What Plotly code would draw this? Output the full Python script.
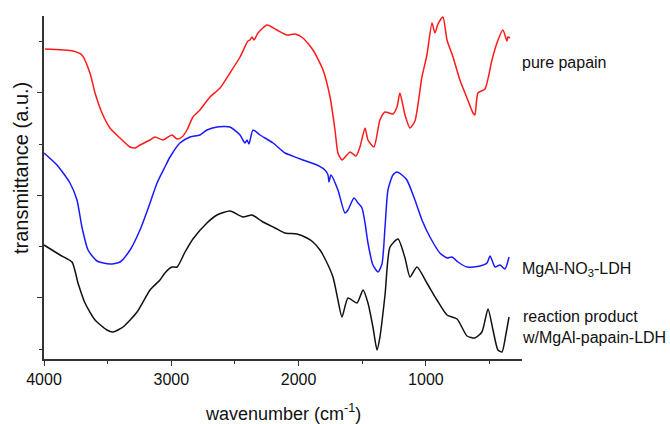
import plotly.graph_objects as go

# ---- data (wavenumber in cm^-1, transmittance in arbitrary units, offset stacked) ----
papain_wn = [3992, 3772, 3702, 3639, 3599, 3544, 3482, 3403, 3324, 3285, 3246, 3167, 3128, 3065,
             2995, 2955, 2916, 2877, 2830, 2775, 2696, 2617, 2539, 2460, 2398, 2382, 2366, 2350,
             2319, 2248, 2170, 2091, 2028, 1966, 1887, 1808, 1753, 1714, 1691, 1659, 1620, 1596,
             1549, 1518, 1478, 1455, 1408, 1361, 1321, 1259, 1227, 1204, 1164, 1125, 1086, 1031,
             992, 952, 929, 905, 866, 834, 787, 733, 677, 630, 615, 591, 536, 481, 442, 395, 363,
             355, 339]
papain_t = [310, 308, 304, 286, 266, 246, 231, 221, 212, 211, 214, 219, 222, 219,
            224, 220, 222, 229, 242, 249, 262, 271, 286, 302, 318, 319, 322, 319,
            326, 334, 329, 324, 325, 321, 309, 289, 262, 229, 206, 199, 204, 207,
            203, 212, 231, 219, 212, 239, 247, 245, 252, 266, 244, 231, 238, 282,
            304, 336, 326, 335, 342, 319, 302, 279, 261, 246, 244, 266, 270, 299, 316, 329, 318,
            322, 321]

ldh_wn = [4000, 3898, 3796, 3741, 3702, 3654, 3584, 3482, 3403, 3324, 3246, 3167, 3112, 3050,
          3010, 2932, 2853, 2775, 2720, 2641, 2539, 2460, 2421, 2405, 2390, 2358, 2303, 2201,
          2107, 2068, 1966, 1856, 1793, 1769, 1761, 1746, 1691, 1636, 1612, 1565, 1533, 1502,
          1478, 1455, 1416, 1376, 1345, 1321, 1298, 1259, 1227, 1188, 1149, 1086, 1031, 968,
          890, 834, 795, 748, 677, 575, 520, 496, 457, 418, 379, 347]
ldh_t = [206, 194, 176, 159, 132, 109, 98, 95, 97, 109, 129, 156, 176, 192,
         202, 216, 222, 224, 229, 232, 232, 224, 216, 219, 215, 229, 224, 216,
         206, 204, 199, 194, 189, 184, 177, 184, 169, 146, 149, 161, 156, 151,
         136, 116, 94, 87, 95, 132, 169, 184, 187, 184, 179, 159, 139, 122,
         106, 101, 102, 97, 92, 93, 96, 103, 92, 94, 90, 102]

prod_wn = [4000, 3874, 3780, 3733, 3678, 3599, 3505, 3458, 3379, 3269, 3167, 3089, 3050, 2995,
           2955, 2892, 2830, 2720, 2641, 2539, 2437, 2366, 2280, 2185, 2107, 2013, 1934, 1887,
           1832, 1808, 1730, 1691, 1659, 1612, 1541, 1494, 1455, 1416, 1384, 1361, 1321, 1282,
           1219, 1164, 1125, 1070, 992, 913, 834, 755, 677, 615, 560, 512, 473, 434, 402, 371, 347]
prod_t = [114, 104, 97, 76, 56, 39, 29, 27, 32, 47, 69, 79, 86, 92,
          92, 107, 120, 136, 144, 148, 142, 144, 137, 131, 126, 125, 121, 117,
          109, 104, 82, 59, 42, 61, 56, 69, 56, 32, 9, 22, 64, 112,
          120, 101, 82, 92, 76, 59, 44, 40, 23, 21, 27, 50, 29, 9, 7, 25, 42]

x_major = [4000, 3000, 2000, 1000]
x_minor = [3500, 2500, 1500, 500]
y_major = [62, 164, 267]
y_minor = [10, 113, 215, 318]

FONT = "Liberation Sans, Arial, sans-serif"

fig = go.Figure()
for wn, t, col in [(papain_wn, papain_t, "#ff1a1a"),
                   (ldh_wn, ldh_t, "#1a1aff"),
                   (prod_wn, prod_t, "#111111")]:
    fig.add_trace(go.Scatter(x=wn, y=t, mode="lines",
                             line=dict(color=col, width=1.5, shape="spline", smoothing=0.6),
                             showlegend=False, hoverinfo="skip"))

fig.update_layout(
    width=670, height=424,
    margin=dict(l=44, r=148, t=16, b=65),
    paper_bgcolor="white", plot_bgcolor="white",
    font=dict(family=FONT, size=16, color="#111111"),
)
fig.update_xaxes(
    range=[4000, 245], showgrid=False, zeroline=False,
    showline=True, linecolor="#333333", linewidth=1.5,
    tickmode="array", tickvals=x_major, ticktext=[str(v) for v in x_major],
    ticks="outside", ticklen=5, tickwidth=1.2, tickcolor="#333333",
    tickfont=dict(size=16, family=FONT, color="#111111"),
    minor=dict(tickmode="array", tickvals=x_minor, ticks="outside", ticklen=3,
               tickwidth=1.2, tickcolor="#333333"),
)
fig.update_yaxes(
    range=[0, 343], showgrid=False, zeroline=False,
    showline=True, linecolor="#333333", linewidth=1.5,
    tickmode="array", tickvals=y_major, showticklabels=False,
    ticks="outside", ticklen=5, tickwidth=1.2, tickcolor="#333333",
    minor=dict(tickmode="array", tickvals=y_minor, ticks="outside", ticklen=3,
               tickwidth=1.2, tickcolor="#333333"),
)

anns = [
    dict(text="pure papain", x=1.0, xref="paper", y=297, yref="y"),
    dict(text="MgAl-NO<sub>3</sub>-LDH", x=1.0, xref="paper", y=90, yref="y"),
    dict(text="reaction product<br>w/MgAl-papain-LDH", x=1.0, xref="paper", y=32, yref="y", align="left"),
]
for a in anns:
    fig.add_annotation(**a, xanchor="left", yanchor="middle", showarrow=False,
                       xshift=-2, font=dict(size=16, family=FONT, color="#111111"))

fig.add_annotation(text="transmittance (a.u.)", textangle=-90, x=-0.048, xref="paper",
                   y=191, yref="y", xanchor="center", yanchor="middle", showarrow=False,
                   font=dict(size=20, family=FONT, color="#111111"))
fig.add_annotation(text="wavenumber (cm<sup>-1</sup>)", x=0.5, xref="paper",
                   y=0, yref="paper", xanchor="center", yanchor="middle", yshift=-53,
                   showarrow=False, font=dict(size=18, family=FONT, color="#111111"))

fig.write_html("out.html")
